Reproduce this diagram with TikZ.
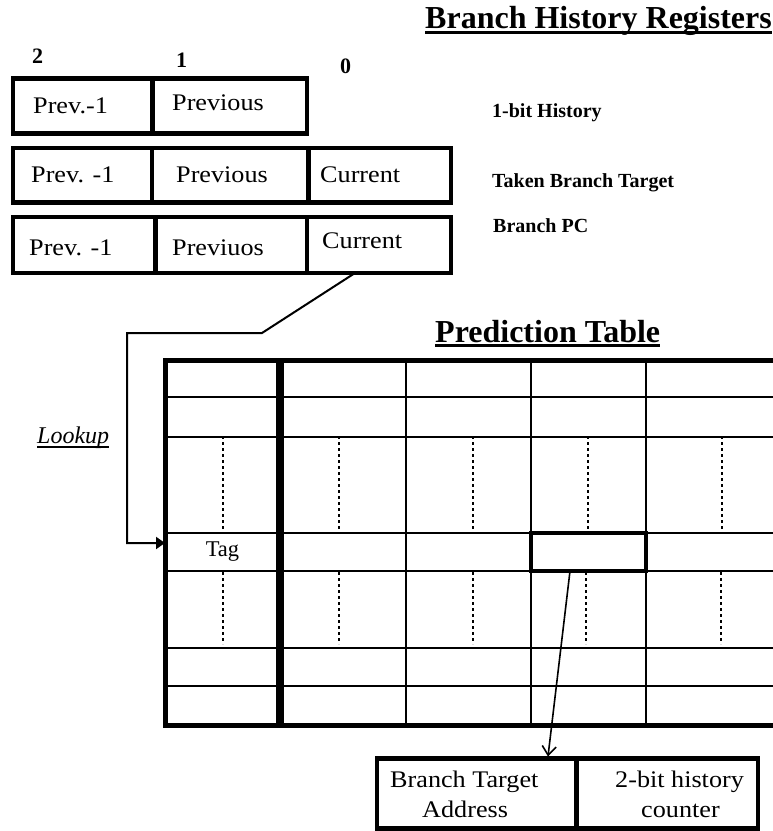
\documentclass[tikz,border=0pt]{standalone}
\usepackage{fontspec}
\setmainfont{Liberation Serif}
\newfontfamily\bodyfont{Liberation Serif}[FakeStretch=1.1]
\usetikzlibrary{arrows.meta,calc}
\begin{document}
\begin{tikzpicture}[x=1pt,y=-1pt,
  regcell/.style={draw, line width=4.5pt, rectangle, inner sep=0pt, outer sep=0pt},
  txt/.style={inner sep=0pt, anchor=base west, font=\bodyfont\fontsize{23.8}{30}\selectfont},
  lbl/.style={inner sep=0pt, anchor=base west, font=\bfseries\fontsize{20}{24}\selectfont},
  digit/.style={inner sep=0pt, anchor=base west, font=\bfseries\fontsize{22}{26}\selectfont},
  title/.style={inner sep=0pt, anchor=base west, font=\bfseries\fontsize{32}{38}\selectfont},
  tline/.style={line width=2pt},
  touter/.style={line width=5pt, line join=miter},
  dotline/.style={line width=2pt, dash pattern=on 3pt off 3pt},
  conn/.style={line width=2pt, -{Triangle[length=9pt,width=12pt]}},
  conn2/.style={line width=1.6pt, -{Straight Barb[length=9pt,width=14pt]}}
]
\useasboundingbox (0,0) rectangle (773,831);

% ---- titles ----
\node[title] (t1) at (425,28) {Branch History Registers};
\draw[line width=2.6pt] ([yshift=-4.5pt]t1.base west) -- ([yshift=-4.5pt]t1.base east);

% ---- bit index labels ----
\node[digit] (d2) at (32,63) {2};
\node[digit] (d1) at (176,67) {1};
\node[digit] (d0) at (340,73) {0};

% ---- register row 1 ----
\node[regcell, minimum width=139.5pt, minimum height=55pt] (r1a) at (82.75,106) {};
\node[regcell, minimum width=154.5pt, minimum height=55pt] (r1b) at (229.75,106) {};
\node[txt] (r1at) at (33,113) {Prev.-1};
\node[txt] (r1bt) at (172,110) {Previous};

% ---- register row 2 ----
\node[regcell, minimum width=139pt, minimum height=54.5pt] (r2a) at (82.5,175.25) {};
\node[regcell, minimum width=156.5pt, minimum height=54.5pt] (r2b) at (230.25,175.25) {};
\node[regcell, minimum width=142.5pt, minimum height=54.5pt] (r2c) at (379.75,175.25) {};
\node[txt] (r2at) at (31,182) {Prev. -1};
\node[txt] (r2bt) at (176,182) {Previous};
\node[txt] (r2ct) at (320,182) {Current};

% ---- register row 3 ----
\node[regcell, minimum width=142.5pt, minimum height=56pt] (r3a) at (84.25,245) {};
\node[regcell, minimum width=151.5pt, minimum height=56pt] (r3b) at (231.25,245) {};
\node[regcell, minimum width=144pt, minimum height=56pt] (r3c) at (379,245) {};
\node[txt] (r3at) at (29,255) {Prev. -1};
\node[txt] (r3bt) at (172,255) {Previuos};
\node[txt] (r3ct) at (322,248) {Current};

% ---- register descriptions ----
\node[lbl] (h1) at (492,117) {1-bit History};
\node[lbl] (h2) at (492,187) {Taken Branch Target};
\node[lbl] (h3) at (493,232) {Branch PC};

% ---- prediction table title ----
\node[title] (t2) at (435,342) {Prediction Table};
\draw[line width=2.3pt] ([yshift=-3.5pt]t2.base west) -- ([yshift=-3.5pt]t2.base east);

% ---- table grid ----
\foreach \yy in {397,437,533,571,648,686} \draw[tline] (165,\yy) -- (776,\yy);
\foreach \xx in {405.5,531,646} \draw[tline] (\xx,360) -- (\xx,725);
\draw[touter] (776,360) -- (165,360) -- (165,725) -- (776,725);
\draw[line width=7.5pt] (280,358) -- (280,728);
\foreach \xx in {223,339,472.5,588,722} \draw[dotline] (\xx,436) -- (\xx,531);
\foreach \xx in {223,339,472.5,586,721} \draw[dotline] (\xx,572) -- (\xx,644);

% ---- tag cell and highlighted cell ----
\node[inner sep=0pt, outer sep=0pt, minimum width=115pt, minimum height=38pt,
      font=\fontsize{22.5}{27}\selectfont] (tag) at (222.5,552) {Tag};
\node[regcell, minimum width=115pt, minimum height=38pt] (hl) at (588.5,552) {};

% ---- lookup label ----
\node[inner sep=0pt, anchor=base west, font=\itshape\fontsize{24}{28}\selectfont] (lk) at (37,443) {Lookup};
\draw[line width=1.5pt] ([yshift=-4pt]lk.base west) -- ([yshift=-4pt]lk.base east);

% ---- lookup connector ----
\draw[conn] ([xshift=-24pt]r3c.south) -- (262,333) -- (127,333) |- ([yshift=9pt]tag.west);

% ---- output entry ----
\node[regcell, minimum width=199.5pt, minimum height=70.2pt] (bta) at (476.75,793.6) {};
\node[regcell, minimum width=181.5pt, minimum height=70.2pt] (bhc) at (667.25,793.6) {};
\node[txt] (bt1) at (390,787) {Branch Target};
\node[txt] (bt2) at (422,817) {Address};
\node[txt] (bh1) at (615,787) {2-bit history};
\node[txt] (bh2) at (641,817) {counter};

\draw[conn2, shorten >=2pt] ([xshift=-18.5pt]hl.south) -- ([xshift=71pt]bta.north);
\end{tikzpicture}
\end{document}
